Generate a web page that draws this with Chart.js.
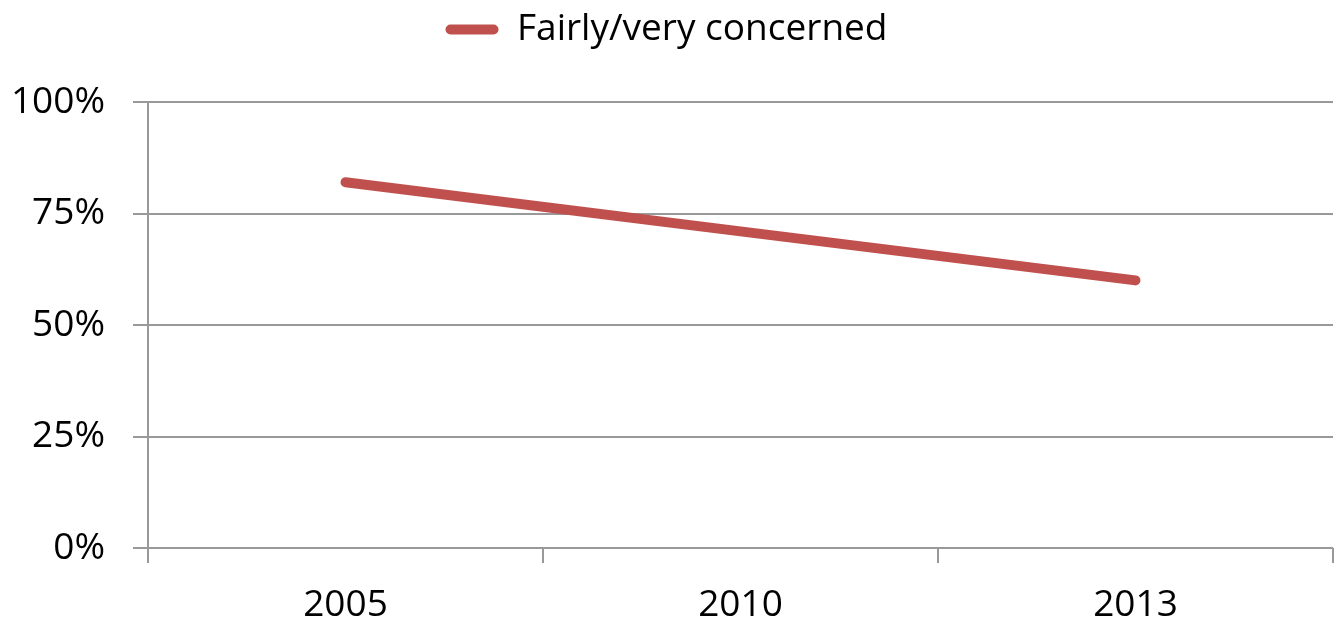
<!DOCTYPE html>
<html>
<head>
<meta charset="utf-8">
<script src="https://cdn.jsdelivr.net/npm/chart.js@4/dist/chart.umd.min.js"></script>
<style>
  html, body { margin: 0; padding: 0; background: #fff; }
  #wrap { width: 1338px; height: 625px; }
</style>
</head>
<body>
<div id="wrap"><canvas id="chart"></canvas></div>
<script>
// data
const years = ['2005', '2010', '2013'];
const concerned = [82, 71, 60];
const yTicks = [0, 25, 50, 75, 100];

const lineColor = '#C0504D';
const axisGray = '#999999';
const font = "'Open Sans', 'Noto Sans', sans-serif";

// leave room under the legend, like the original
const legendGap = {
  id: 'legendGap',
  beforeInit(chart) {
    if (!chart.legend) return;
    const fit = chart.legend.fit;
    chart.legend.fit = function () {
      fit.call(this);
      this.height += 44;
    };
  }
};

const ctx = document.getElementById('chart');
new Chart(ctx, {
  type: 'line',
  data: {
    labels: years,
    datasets: [{
      label: 'Fairly/very concerned',
      data: concerned,
      borderColor: lineColor,
      backgroundColor: lineColor,
      borderWidth: 10,
      borderCapStyle: 'round',
      borderJoinStyle: 'round',
      pointRadius: 0,
      tension: 0
    }]
  },
  plugins: [legendGap],
  options: {
    responsive: true,
    maintainAspectRatio: false,
    animation: false,
    layout: { padding: { top: 7, right: 5, left: 0, bottom: 0 } },
    plugins: {
      tooltip: { enabled: false },
      legend: {
        position: 'top',
        labels: {
          color: '#000',
          font: { family: font, size: 37 },
          boxWidth: 53,
          boxHeight: 10,
          padding: 4,
          useBorderRadius: true,
          borderRadius: 5,
          generateLabels(chart) {
            return chart.data.datasets.map((ds, i) => ({
              text: ds.label,
              fillStyle: ds.borderColor,
              strokeStyle: ds.borderColor,
              lineWidth: 0,
              borderRadius: 5,
              datasetIndex: i
            }));
          }
        }
      }
    },
    scales: {
      x: {
        offset: true,
        grid: {
          offset: true,
          drawOnChartArea: false,
          drawTicks: true,
          tickLength: 15,
          color: axisGray,
          lineWidth: 2
        },
        border: { display: false },
        ticks: {
          color: '#000',
          font: { family: font, size: 37 },
          padding: 20,
          maxRotation: 0
        },
        afterFit(scale) { scale.height = 77; }
      },
      y: {
        min: 0,
        max: 100,
        afterBuildTicks(scale) { scale.ticks = yTicks.map(v => ({ value: v })); },
        grid: {
          color: axisGray,
          lineWidth: 2,
          tickLength: 15
        },
        border: { display: true, color: axisGray, width: 2 },
        ticks: {
          color: '#000',
          font: { family: font, size: 37 },
          padding: 28,
          callback: v => v + '%'
        },
        afterFit(scale) { scale.width = 148; }
      }
    }
  }
});
</script>
</body>
</html>
